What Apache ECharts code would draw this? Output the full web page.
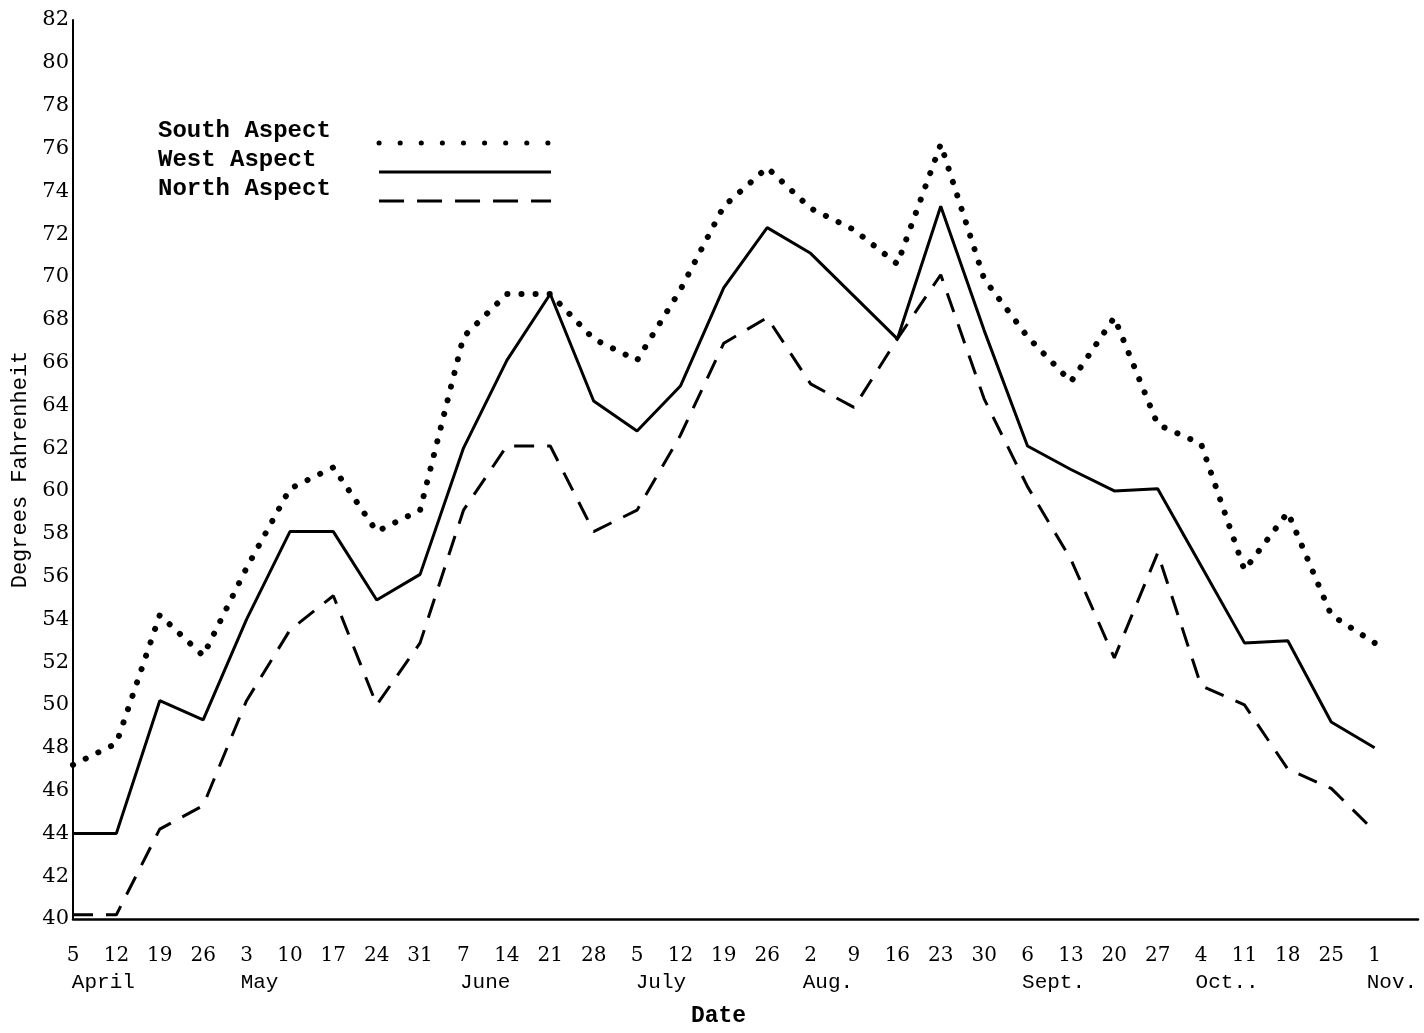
<!DOCTYPE html>
<html>
<head>
<meta charset="utf-8">
<script src="https://cdn.jsdelivr.net/npm/echarts@6/dist/echarts.min.js"></script>
<style>
  html, body { margin: 0; padding: 0; background: #fff; }
  #chart { width: 1424px; height: 1033px; }
</style>
</head>
<body>
<div id="chart"></div>
<script>
// ---------- data ----------
const dayLabels = ['5','12','19','26','3','10','17','24','31','7','14','21','28','5','12','19','26','2','9','16','23','30','6','13','20','27','4','11','18','25','1'];
const monthLabels = ['April','May','June','July','Aug.','Sept.','Oct..','Nov.'];
const seriesNames = ['South Aspect', 'West Aspect', 'North Aspect'];
const southAspect = [47.2, 48.2, 54.2, 52.3, 56.4, 60.1, 61.1, 58.1, 59.1, 67.2, 69.2, 69.2, 67.1, 66.1, 69.4, 73.3, 75.1, 73.2, 72.2, 70.6, 76.2, 69.9, 67.2, 65.1, 68.1, 63.1, 62.2, 56.3, 59.0, 54.2, 52.9];
const westAspect  = [44.0, 44.0, 50.2, 49.3, 54.0, 58.1, 58.1, 54.9, 56.1, 62.0, 66.1, 69.2, 64.2, 62.8, 64.9, 69.5, 72.3, 71.1, 69.1, 67.1, 73.3, 67.5, 62.1, 61.0, 60.0, 60.1, 56.5, 52.9, 53.0, 49.2, 48.0];
const northAspect = [40.2, 40.2, 44.2, 45.3, 50.2, 53.5, 55.1, 50.0, 52.9, 59.1, 62.1, 62.1, 58.1, 59.1, 62.6, 66.9, 68.1, 65.0, 63.9, 67.1, 70.1, 64.3, 60.2, 56.8, 52.2, 57.1, 50.9, 50.0, 47.0, 46.1, 44.1];
const yMin = 40, yMax = 82, yStep = 2;
const xTitle = 'Date';
const yTitle = 'Degrees Fahrenheit';

// ---------- layout ----------
const W = 1424, H = 1033;
const gridLeft = 73, gridRight = 6, gridTop = 20, gridBottom = 111;
const nCats = dayLabels.length + 1; // one empty trailing slot so the axis runs past Nov. 1
const step = (W - gridLeft - gridRight) / (nCats - 1);
const monthAnchor = [0.7, 4.3, 9.5, 13.55, 17.4, 22.6, 26.6, 30.4];

const mono = '"Liberation Mono", "DejaVu Sans Mono", monospace';
const serif = '"DejaVu Serif", "Liberation Serif", serif';

const chart = echarts.init(document.getElementById('chart'), null, { renderer: 'canvas', width: W, height: H });

const pad = s => s + ' '.repeat(15 - s.length);

const southStyle = { color: '#000', width: 6, type: [0.1, 14], cap: 'round' };
const westStyle  = { color: '#000', width: 3, type: 'solid' };
const northStyle = { color: '#000', width: 3, type: [20, 13] };

const option = {
  backgroundColor: '#ffffff',
  animation: false,
  grid: { left: gridLeft, right: gridRight, top: gridTop, bottom: gridBottom, containLabel: false },
  legend: {
    orient: 'vertical',
    left: 153,
    top: 114,
    align: 'right',
    itemWidth: 172,
    itemHeight: 20,
    itemGap: -12,
    itemStyle: { opacity: 0, borderWidth: 0 },
    data: [
      { name: seriesNames[0], lineStyle: { width: 5, type: [0.1, 21], cap: 'round', color: '#000' } },
      { name: seriesNames[1], lineStyle: { width: 3, type: 'solid', color: '#000' } },
      { name: seriesNames[2], lineStyle: { width: 3, type: [25, 13], color: '#000' } }
    ],
    formatter: name => '{a|' + pad(name) + '}\n{b| }',
    textStyle: {
      color: '#000',
      rich: {
        a: { fontFamily: mono, fontSize: 24, fontWeight: 'bold', color: '#000', lineHeight: 24 },
        b: { fontSize: 10, lineHeight: 24 }
      }
    }
  },
  xAxis: {
    type: 'category',
    boundaryGap: false,
    data: dayLabels.concat(['']),
    axisLine: { show: true, lineStyle: { color: '#000', width: 2.5 } },
    axisTick: { show: false },
    splitLine: { show: false },
    axisLabel: { interval: 0, margin: 27, color: '#000', fontFamily: serif, fontSize: 20 },
    name: xTitle,
    nameLocation: 'middle',
    nameGap: 86,
    nameTextStyle: { fontFamily: mono, fontSize: 23, fontWeight: 'bold', color: '#000', padding: [0, 54, 0, 0] }
  },
  yAxis: {
    type: 'value',
    min: yMin,
    max: yMax,
    interval: yStep,
    axisLine: { show: true, lineStyle: { color: '#000', width: 2 } },
    axisTick: { show: false },
    splitLine: { show: false },
    axisLabel: { margin: 4, color: '#000', fontFamily: serif, fontSize: 21 },
    name: yTitle,
    nameLocation: 'middle',
    nameGap: 40,
    nameRotate: 90,
    nameTextStyle: { fontFamily: mono, fontSize: 22, color: '#000' }
  },
  series: [
    { name: seriesNames[0], type: 'line', data: southAspect, symbol: 'none', itemStyle: { color: '#000' }, lineStyle: southStyle },
    { name: seriesNames[1], type: 'line', data: westAspect,  symbol: 'none', itemStyle: { color: '#000' }, lineStyle: westStyle },
    { name: seriesNames[2], type: 'line', data: northAspect, symbol: 'none', itemStyle: { color: '#000' }, lineStyle: northStyle }
  ],
  graphic: monthLabels.map((m, i) => ({
    type: 'text',
    x: gridLeft + monthAnchor[i] * step,
    y: 982,
    style: { text: m, fill: '#000', fontFamily: mono, fontSize: 21, align: 'center', verticalAlign: 'middle' }
  }))
};
chart.setOption(option);
</script>
</body>
</html>
